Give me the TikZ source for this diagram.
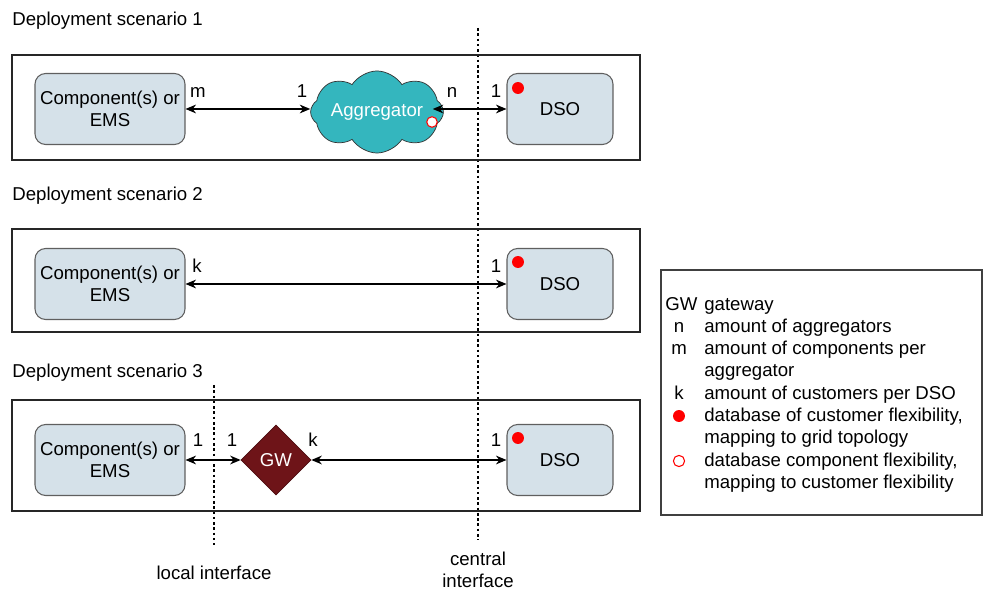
\documentclass[tikz,border=0pt]{standalone}
\usepackage{fontspec}
\setmainfont{Liberation Sans}
\usetikzlibrary{shapes.geometric, shapes.symbols, arrows.meta}

\definecolor{boxfill}{RGB}{213,225,233}
\definecolor{boxline}{RGB}{95,95,95}
\definecolor{aggfill}{RGB}{52,182,190}
\definecolor{gwfill}{RGB}{110,20,24}

\tikzset{
    szenario/.style={draw=black!85, line width=0.8pt},
    komp/.style={draw=boxline, fill=boxfill, rounded corners=6pt, align=center,
        minimum width=3cm, minimum height=1.42cm, inner sep=0pt, line width=0.6pt},
    dso/.style={komp, minimum width=2.12cm},
    verb/.style={<->, >={Stealth[length=6pt, width=5pt]}, line width=0.7pt},
    schnitt/.style={dash pattern=on 1.5pt off 1.5pt, line width=0.6pt},
    zahl/.style={inner sep=0pt, anchor=base},
    titel/.style={inner sep=0pt, anchor=base west},
}

\begin{document}
\begin{tikzpicture}[x=0.02cm, y=-0.02cm, font=\fontsize{10.6}{12.5}\selectfont]

\useasboundingbox (0,0) rectangle (984,590);

% Schnittstellen
\coordinate (zo) at (478,28);
\coordinate (zu) at (478,540);
\coordinate (lo) at (214,385);
\coordinate (lu) at (214,545);
\draw[schnitt] (zo) -- (zu);
\draw[schnitt] (lo) -- (lu);
\node[align=center] (zlab) at (478,570) {central\\interface};
\node (llab) at (214,573) {local interface};

% Szenario 1
\node[titel] (t1) at (12,26) {Deployment scenario 1};
\draw[szenario] (12,55) rectangle (640,160);
\node[komp] (k1) at (110,109) {Component(s) or\\EMS};
\node[cloud, cloud puffs=8, cloud puff arc=115, aspect=2.2, fill=aggfill, draw=black!80,
    text=white, minimum width=2.55cm, minimum height=1.1cm, inner sep=0pt] (agg) at (377,112) {Aggregator};
\node[dso] (d1) at (560,109) {DSO};
\fill[red] (518,88) circle (3.4pt);
\draw[red, fill=white, line width=0.6pt] (432,122) circle (3pt);
\draw[verb] (k1.east) -- (k1.east -| agg.west);
\draw[verb] ([xshift=-0.22cm]agg.east |- d1.west) -- (d1.west);
\node[zahl] (m1) at (198,98) {m};
\node[zahl] (a1) at (302,98) {1};
\node[zahl] (n1) at (452,98) {n};
\node[zahl] (b1) at (496,98) {1};

% Szenario 2
\node[titel] (t2) at (12,201) {Deployment scenario 2};
\draw[szenario] (12,229) rectangle (640,332);
\node[komp] (k2) at (110,284) {Component(s) or\\EMS};
\node[dso] (d2) at (560,284) {DSO};
\fill[red] (518,262) circle (3.4pt);
\draw[verb] (k2.east) -- (d2.west);
\node[zahl] (kk2) at (197,273) {k};
\node[zahl] (b2) at (496,273) {1};

% Szenario 3
\node[titel] (t3) at (12,378) {Deployment scenario 3};
\draw[szenario] (12,400) rectangle (640,511);
\node[komp] (k3) at (110,460) {Component(s) or\\EMS};
\node[diamond, fill=gwfill, draw=gwfill!70!black, text=white, minimum size=1.4cm,
    inner sep=0pt] (gw) at (276,460) {GW};
\node[dso] (d3) at (560,460) {DSO};
\fill[red] (518,438) circle (3.4pt);
\draw[verb] (k3.east) -- (gw.west);
\draw[verb] (gw.east) -- (d3.west);
\node[zahl] (a3) at (198,447) {1};
\node[zahl] (c3) at (232,447) {1};
\node[zahl] (kk3) at (313,447) {k};
\node[zahl] (b3) at (496,447) {1};

% Legende
\draw[draw=black!75, line width=0.6pt] (661,270) rectangle (982,515);
\node[titel] (lgw) at (665,311) {GW};
\node[titel] (lgwt) at (704,311) {gateway};
\node[zahl] (ln) at (679,333) {n};
\node[titel] (lnt) at (704,333) {amount of aggregators};
\node[zahl] (lm) at (679,355) {m};
\node[titel] (lmt) at (704,355) {amount of components per};
\node[titel] (lmt2) at (704,377) {aggregator};
\node[zahl] (lk) at (679,400) {k};
\node[titel] (lkt) at (704,400) {amount of customers per DSO};
\fill[red] (679,416) circle (3.4pt);
\node[titel] (lvt) at (704,422) {database of customer flexibility,};
\node[titel] (lvt2) at (704,444) {mapping to grid topology};
\draw[red, fill=white, line width=0.6pt] (679,461) circle (3.2pt);
\node[titel] (lot) at (704,467) {database component flexibility,};
\node[titel] (lot2) at (704,489) {mapping to customer flexibility};

\end{tikzpicture}
\end{document}
